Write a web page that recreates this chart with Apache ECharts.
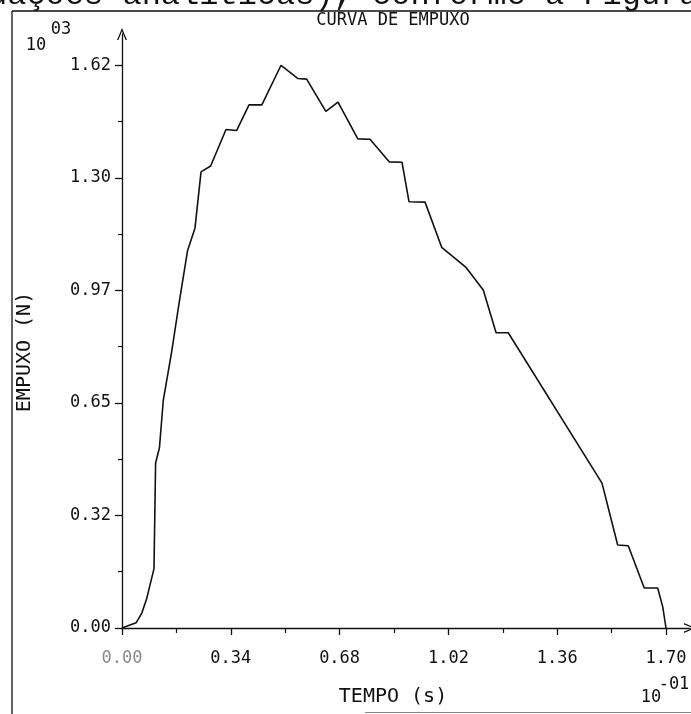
<!DOCTYPE html>
<html>
<head>
<meta charset="utf-8">
<script src="https://cdn.jsdelivr.net/npm/echarts@6/dist/echarts.min.js"></script>
<style>
html,body{margin:0;padding:0;background:#fff;}
#chart{width:691px;height:714px;}
</style>
</head>
<body>
<div id="chart"></div>
<script>
// Time in units of 10^-1 s, thrust in units of 10^3 N
const timeVals = [0, 0.044, 0.062, 0.077, 0.100, 0.105, 0.117, 0.129, 0.155, 0.179, 0.205, 0.228, 0.247, 0.277, 0.325, 0.358, 0.397, 0.437, 0.497, 0.549, 0.577, 0.637, 0.675, 0.737, 0.775, 0.835, 0.875, 0.897, 0.947, 0.999, 1.074, 1.129, 1.169, 1.207, 1.500, 1.549, 1.582, 1.632, 1.674, 1.690, 1.700];
const thrustVals = [0, 0.015, 0.043, 0.084, 0.171, 0.475, 0.519, 0.655, 0.794, 0.939, 1.087, 1.151, 1.313, 1.330, 1.435, 1.432, 1.506, 1.506, 1.620, 1.582, 1.580, 1.487, 1.514, 1.408, 1.407, 1.342, 1.341, 1.227, 1.226, 1.096, 1.039, 0.973, 0.850, 0.850, 0.417, 0.239, 0.237, 0.115, 0.115, 0.060, 0];

const xTickValues = [0, 0.34, 0.68, 1.02, 1.36, 1.70];
const xTickLabels = ['0.00', '0.34', '0.68', '1.02', '1.36', '1.70'];
const xMinorValues = [0.17, 0.51, 0.85, 1.19, 1.53];
const yTickValues = [0, 0.324, 0.648, 0.972, 1.296, 1.62];
const yTickLabels = ['0.00', '0.32', '0.65', '0.97', '1.30', '1.62'];
const yMinorValues = [0.162, 0.486, 0.81, 1.134, 1.458];

const titleText = 'CURVA DE EMPUXO';
const xName = 'TEMPO (s)';
const yName = 'EMPUXO (N)';
const headerText = 'uações analíticas), conforme a Figura';

const FONT = 'DejaVu Sans Mono';
const INK = '#111';
const chevron = 'path://M0,12 L5,0 L10,12 L8.6,12 L5,3.2 L1.4,12 Z';

const chart = echarts.init(document.getElementById('chart'), null, {renderer: 'canvas'});

function labelFor(values, labels) {
  return function (v) {
    for (let i = 0; i < values.length; i++) {
      if (Math.abs(values[i] - v) < 1e-6) return labels[i];
    }
    return '';
  };
}

const option = {
  backgroundColor: '#fff',
  animation: false,
  grid: {left: 122, right: 1, top: 34, bottom: 86, containLabel: false},
  xAxis: [{
    type: 'value', position: 'bottom', min: 0, max: 1.775,
    splitLine: {show: false},
    axisLine: {show: true, onZero: false, symbol: ['none', chevron], symbolSize: [10, 14],
      lineStyle: {color: INK, width: 1.3}},
    axisTick: {show: true, inside: false, length: 7, customValues: xTickValues,
      lineStyle: {color: INK, width: 1.3}},
    axisLabel: {show: true, margin: 22, customValues: xTickValues,
      fontFamily: FONT, fontSize: 17, color: INK,
      formatter: function (v) {
        const s = labelFor(xTickValues, xTickLabels)(v);
        return v === 0 ? '{g|' + s + '}' : s;
      },
      rich: {g: {color: '#8a8a8a', fontFamily: FONT, fontSize: 17}}}
  }, {
    type: 'value', position: 'bottom', min: 0, max: 1.775,
    splitLine: {show: false},
    axisLine: {show: false, onZero: false},
    axisTick: {show: true, inside: false, length: 5, customValues: xMinorValues,
      lineStyle: {color: INK, width: 1.2}},
    axisLabel: {show: false}
  }],
  yAxis: [{
    type: 'value', position: 'left', min: 0, max: 1.71,
    splitLine: {show: false},
    axisLine: {show: true, onZero: false, symbol: ['none', chevron], symbolSize: [10, 14],
      lineStyle: {color: INK, width: 1.3}},
    axisTick: {show: true, inside: false, length: 7, customValues: yTickValues,
      lineStyle: {color: INK, width: 1.3}},
    axisLabel: {show: true, margin: 11, customValues: yTickValues,
      fontFamily: FONT, fontSize: 17, color: INK,
      formatter: labelFor(yTickValues, yTickLabels)}
  }, {
    type: 'value', position: 'left', min: 0, max: 1.71,
    splitLine: {show: false},
    axisLine: {show: false, onZero: false},
    axisTick: {show: true, inside: false, length: 4, customValues: yMinorValues,
      lineStyle: {color: INK, width: 1.2}},
    axisLabel: {show: false}
  }],
  series: [{
    type: 'line',
    xAxisIndex: 0, yAxisIndex: 0,
    data: timeVals.map((t, i) => [t, thrustVals[i]]),
    showSymbol: false,
    lineStyle: {color: INK, width: 1.6},
    z: 5
  }],
  graphic: [
    // cropped line of document text at the top
    {type: 'text', left: -12, top: -20, z: 0,
      style: {text: headerText, font: '32px "Liberation Mono"', fill: INK}},
    // white mask below the page frame
    {type: 'rect', shape: {x: 0, y: 12, width: 691, height: 6}, style: {fill: '#fff'}, z: 1},
    // page frame
    {type: 'line', z: 2, shape: {x1: 12, y1: 11, x2: 691, y2: 11}, style: {stroke: INK, lineWidth: 1.3}},
    {type: 'line', z: 2, shape: {x1: 12, y1: 11, x2: 12, y2: 714}, style: {stroke: INK, lineWidth: 1.3}},
    {type: 'line', z: 2, shape: {x1: 365, y1: 712.5, x2: 691, y2: 712.5}, style: {stroke: '#888', lineWidth: 1.2}},
    // title
    {type: 'text', z: 10, x: 393, y: 21, style: {text: titleText, font: '17px "' + FONT + '"', fill: INK, align: 'center', verticalAlign: 'middle'}},
    // y multiplier 10^03
    {type: 'text', z: 10, x: 36, y: 46, style: {text: '10', font: '17px "' + FONT + '"', fill: INK, align: 'center', verticalAlign: 'middle'}},
    {type: 'text', z: 10, x: 61, y: 30, style: {text: '03', font: '17px "' + FONT + '"', fill: INK, align: 'center', verticalAlign: 'middle'}},
    // x multiplier 10^-01
    {type: 'text', z: 10, x: 651, y: 698, style: {text: '10', font: '17px "' + FONT + '"', fill: INK, align: 'center', verticalAlign: 'middle'}},
    {type: 'text', z: 10, x: 674, y: 685, style: {text: '-01', font: '17px "' + FONT + '"', fill: INK, align: 'center', verticalAlign: 'middle'}},
    // axis names
    {type: 'text', z: 10, x: 393, y: 697, style: {text: xName, font: '20px "' + FONT + '"', fill: INK, align: 'center', verticalAlign: 'middle'}},
    {type: 'text', z: 10, x: 25, y: 352, rotation: Math.PI / 2,
      style: {text: yName, font: '20px "' + FONT + '"', fill: INK, align: 'center', verticalAlign: 'middle'}}
  ]
};
chart.setOption(option);
</script>
</body>
</html>
